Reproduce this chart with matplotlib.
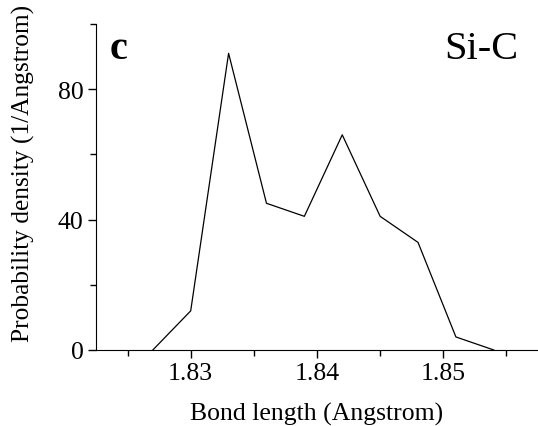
import matplotlib.pyplot as plt
from matplotlib.ticker import MultipleLocator

bond_length = [1.827, 1.830, 1.833, 1.836, 1.839, 1.842, 1.845, 1.848, 1.851, 1.854]
density = [0, 12, 91, 45, 41, 66, 41, 33, 4, 0]

plt.rcParams["font.family"] = ["Liberation Serif", "DejaVu Serif"]

fig = plt.figure(figsize=(5.38, 4.27), dpi=100)
ax = fig.add_axes([0.1784, 0.178, 0.8216, 0.7635])

ax.plot(bond_length, density, color="black", linewidth=0.9)

ax.set_xlim(1.8225, 1.8575)
ax.set_ylim(0, 100)
ax.xaxis.set_minor_locator(MultipleLocator(0.005))
ax.yaxis.set_major_locator(MultipleLocator(40))
ax.yaxis.set_minor_locator(MultipleLocator(20))
ax.set_xticks([1.83, 1.84, 1.85])
ax.set_xticklabels(["1.83", "1.84", "1.85"])

ax.spines["top"].set_visible(False)
ax.spines["right"].set_visible(False)
ax.tick_params(which="major", direction="out", length=6, width=1,
               labelsize=18.5, pad=3)
ax.tick_params(which="minor", direction="out", length=4, width=1)

ax.set_xlabel("Bond length (Angstrom)", fontsize=18.5, labelpad=12.5)
ax.set_ylabel("Probability density (1/Angstrom)", fontsize=18.3)
ax.yaxis.set_label_coords(-0.139, 0.544)

ax.text(0.03, 0.926, "c", transform=ax.transAxes, fontsize=29,
        fontweight="bold", va="center", ha="left")
ax.text(0.955, 0.926, "Si-C", transform=ax.transAxes, fontsize=29,
        va="center", ha="right")

fig.savefig("out.png", dpi=100)
